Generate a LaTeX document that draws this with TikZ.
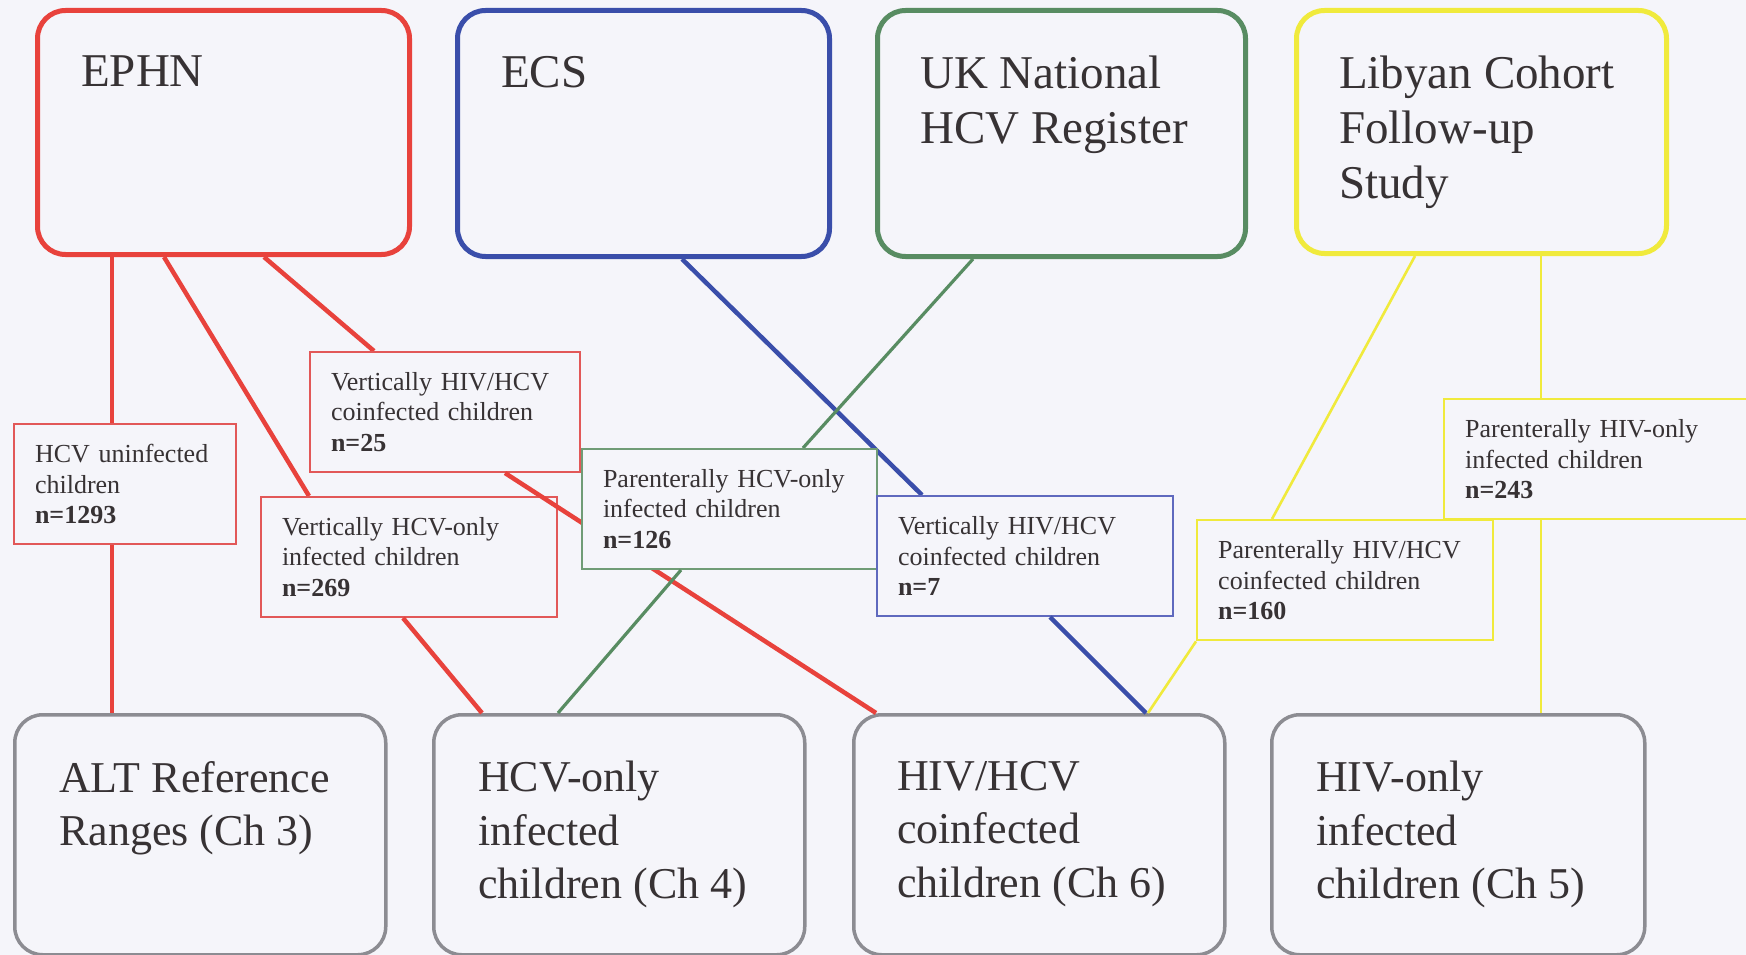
\documentclass[tikz,border=0pt]{standalone}
\usepackage{fontspec}
\setmainfont{Liberation Serif}
\definecolor{bg}{RGB}{245,245,250}
\definecolor{cred}{RGB}{232,66,60}
\definecolor{lred}{RGB}{226,88,88}
\definecolor{cblue}{RGB}{58,78,170}
\definecolor{lblue}{RGB}{95,105,190}
\definecolor{cgreen}{RGB}{88,140,98}
\definecolor{lgreen}{RGB}{112,156,118}
\definecolor{cyel}{RGB}{240,234,60}
\definecolor{cgray}{RGB}{140,140,146}
\definecolor{txt}{RGB}{55,50,52}
\tikzset{
  bigbox/.style={draw, fill=bg, line width=5pt, rounded corners=28pt, anchor=north west, inner sep=0pt},
  chbox/.style={draw=cgray, fill=bg, line width=3.5pt, rounded corners=28pt, anchor=north west, inner sep=0pt, minimum width=371pt, minimum height=240pt},
  toptext/.style={anchor=north west, inner sep=0pt, align=left, text=txt, font=\fontsize{47}{55}\selectfont},
  bottext/.style={anchor=north west, inner sep=0pt, align=left, text=txt, font=\fontsize{44}{53.5}\selectfont},
  lbl/.style={draw, fill=bg, line width=2pt, anchor=north west, inner xsep=21pt, inner ysep=0pt, minimum height=120pt, text width=254pt, align=left, text=txt, font=\fontsize{26}{30.7}\selectfont},
  redc/.style={draw=cred, line width=4.5pt},
  bluec/.style={draw=cblue, line width=4.5pt},
  greenc/.style={draw=cgreen, line width=3.2pt},
  yelc/.style={draw=cyel, line width=2.6pt}
}
\begin{document}
\begin{tikzpicture}[x=1pt, y=-1pt]
\useasboundingbox (0,0) rectangle (1746,955);
\fill[bg] (0,0) rectangle (1746,955);
\clip (0,0) rectangle (1746,955);

% top source boxes
\node[bigbox, draw=cred, minimum width=372pt, minimum height=244pt] (ephn) at (35,8) {};
\node[bigbox, draw=cblue, minimum width=372pt, minimum height=246pt] (ecs) at (455,8) {};
\node[bigbox, draw=cgreen, minimum width=368pt, minimum height=246pt] (uk) at (875,8) {};
\node[bigbox, draw=cyel, minimum width=370pt, minimum height=243pt] (lib) at (1294,8) {};

% bottom chapter boxes
\node[chbox] (alt) at (13,713) {};
\node[chbox] (hcvonly) at (432,713) {};
\node[chbox] (coinf) at (852,713) {};
\node[chbox, minimum width=373pt] (hivonly) at (1270,713) {};

% label boxes: positions as coordinates first (for connectors)
\coordinate (hcvuNW) at (13,423);
\coordinate (vcoNW) at (309,351);
\coordinate (vhcvNW) at (260,496);
\coordinate (phcvNW) at (581,448);
\coordinate (bvcoNW) at (876,495);
\coordinate (phcoNW) at (1196,519);
\coordinate (phivNW) at (1443,398);

% connectors (drawn first, label boxes cover them)
% EPHN
\draw[redc] ([xshift=77pt]ephn.south west) -- ([xshift=99pt]alt.north west);
\draw[redc] ([xshift=129pt]ephn.south west) -- ([xshift=49pt]vhcvNW);
\draw[redc] ([xshift=229pt]ephn.south west) -- ([xshift=65pt]vcoNW);
% ECS
\draw[bluec] ([xshift=227pt]ecs.south west) -- ([xshift=46pt]bvcoNW);
% UK
\draw[greenc] ([xshift=98pt]uk.south west) -- ([xshift=222pt]phcvNW);
% Libyan
\draw[yelc] ([xshift=121pt]lib.south west) -- ([xshift=76pt]phcoNW);
\draw[yelc] ([xshift=247pt]lib.south west) -- ([xshift=271pt]hivonly.north west);

% label nodes
\node[lbl, draw=lred, text width=180pt] (hcvu) at (hcvuNW) {HCV uninfected\\children\\\textbf{n=1293}};
\node[lbl, draw=lred, text width=228pt] (vco) at (vcoNW) {Vertically HIV/HCV\\coinfected children\\\textbf{n=25}};
\node[lbl, draw=lred] (vhcv) at (vhcvNW) {Vertically HCV-only\\infected children\\\textbf{n=269}};

% lower segments of EPHN connectors
\draw[redc] ([xshift=143pt]vhcv.south west) -- ([xshift=50pt]hcvonly.north west);
\draw[redc] ([xshift=196pt]vco.south west) -- ([xshift=24pt]coinf.north west);

\node[lbl, draw=lgreen, text width=253pt] (phcv) at (phcvNW) {Parenterally HCV-only\\infected children\\\textbf{n=126}};
\draw[greenc] ([xshift=100pt]phcv.south west) -- ([xshift=126pt]hcvonly.north west);

\node[lbl, draw=lblue] (bvco) at (bvcoNW) {Vertically HIV/HCV\\coinfected children\\\textbf{n=7}};
\draw[bluec] ([xshift=174pt]bvco.south west) -- ([xshift=294pt]coinf.north west);

\node[lbl, draw=cyel, line width=2.4pt, text width=275pt] (phiv) at (phivNW) {Parenterally HIV-only\\infected children\\\textbf{n=243}};
\node[lbl, draw=cyel, line width=2.4pt] (phco) at (phcoNW) {Parenterally HIV/HCV\\coinfected children\\\textbf{n=160}};
\draw[yelc] (phco.south west) -- ([xshift=296pt]coinf.north west);

% redraw source/destination boxes' borders over connector ends
\node[toptext] (ephnt) at (81,56) {EPHN};
\node[toptext] (ecst) at (501,56) {ECS};
\node[toptext] (ukt) at (920,56) {UK National\\HCV Register};
\node[toptext] (libt) at (1339,56) {Libyan Cohort\\Follow-up\\Study};

\node[bottext] (altt) at (59,761) {ALT Reference\\Ranges (Ch 3)};
\node[bottext] (hcvonlyt) at (478,761) {HCV-only\\infected\\children (Ch 4)};
\node[bottext] (coinft) at (897,761) {HIV/HCV\\coinfected\\children (Ch 6)};
\node[bottext] (hivonlyt) at (1316,761) {HIV-only\\infected\\children (Ch 5)};
\end{tikzpicture}
\end{document}
